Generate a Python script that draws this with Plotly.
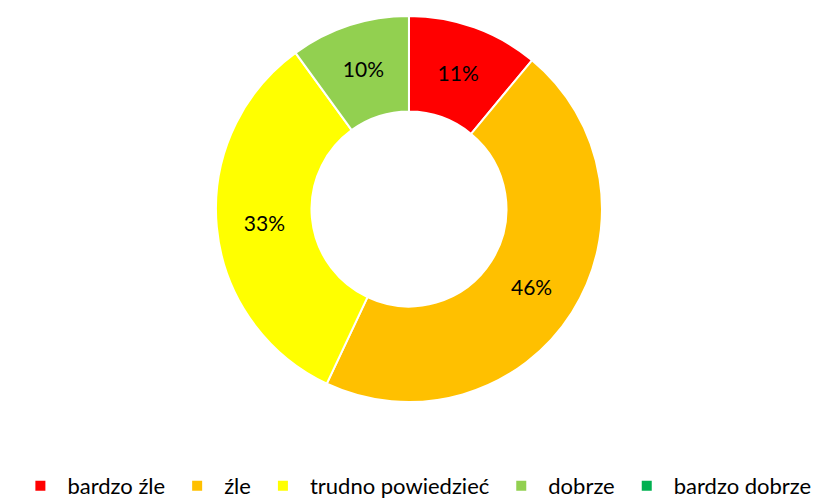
import plotly.graph_objects as go

labels = ["bardzo źle", "źle", "trudno powiedzieć", "dobrze", "bardzo dobrze"]
values = [11, 46, 33, 10, 0]
colors = ["#FF0000", "#FFC000", "#FFFF00", "#92D050", "#00B050"]

texts = ["%{percent:.0%}" if v > 0 else "" for v in values]

fig = go.Figure(go.Pie(
    labels=labels,
    values=values,
    hole=0.505,
    sort=False,
    direction="clockwise",
    rotation=0,
    marker=dict(colors=colors, line=dict(color="white", width=2)),
    texttemplate=texts,
    textposition="inside",
    insidetextorientation="horizontal",
    textfont=dict(family="Lato, Carlito, sans-serif", size=21, color="black"),
    domain=dict(x=[0.2530, 0.7226], y=[0.2084, 0.986]),
))

fig.update_layout(
    width=822, height=499,
    margin=dict(l=0, r=0, t=0, b=0, autoexpand=False),
    paper_bgcolor="white",
    plot_bgcolor="white",
    showlegend=True,
    legend=dict(
        orientation="h",
        x=0.495, xanchor="center",
        y=0.0, yanchor="bottom",
        font=dict(family="Lato, Carlito, sans-serif", size=22, color="black"),
        itemwidth=44,
        traceorder="normal",
    ),
)

fig.write_html("out.html")
